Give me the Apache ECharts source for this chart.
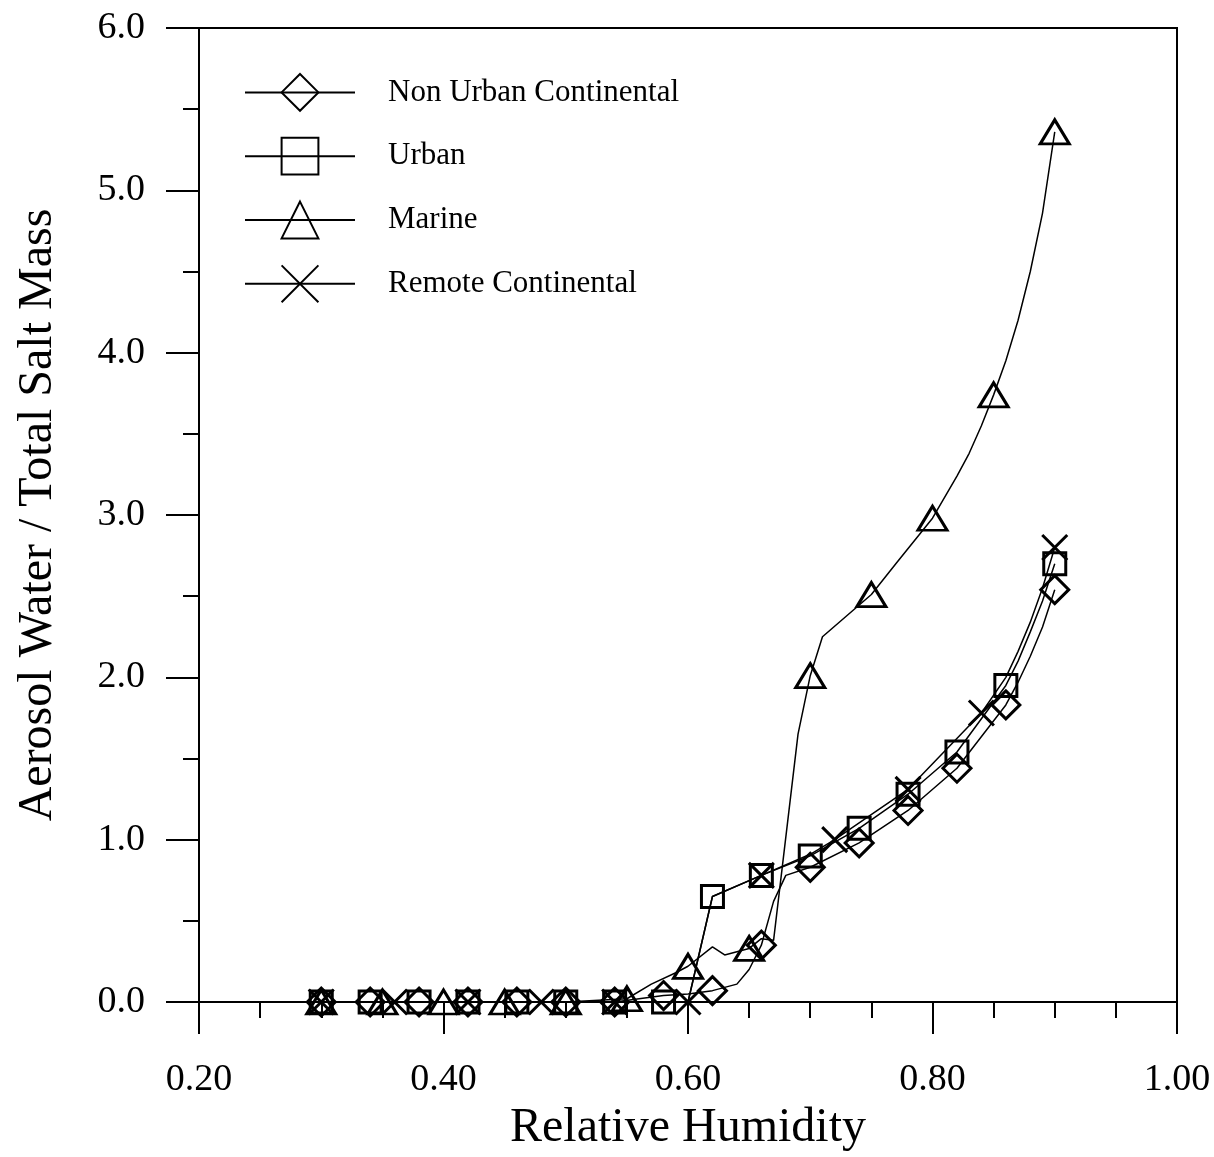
<!DOCTYPE html>
<html>
<head>
<meta charset="utf-8">
<script src="https://cdn.jsdelivr.net/npm/echarts@6/dist/echarts.min.js"></script>
<style>
html,body{margin:0;padding:0;background:#fff;}
#chart{width:1214px;height:1157px;}
</style>
</head>
<body>
<div id="chart"></div>
<script>
// ---- Data ----
const seriesNames = ['Non Urban Continental', 'Urban', 'Marine', 'Remote Continental'];

// Marker points
const nucRH   = [0.30,0.34,0.38,0.42,0.46,0.50,0.54,0.58,0.62,0.66,0.70,0.74,0.78,0.82,0.86,0.90];
const nucVal  = [0,0,0,0,0,0,0,0.04,0.07,0.35,0.83,0.98,1.18,1.44,1.83,2.54];
const urbRH   = [0.30,0.34,0.38,0.42,0.46,0.50,0.54,0.58,0.62,0.66,0.70,0.74,0.78,0.82,0.86,0.90];
const urbVal  = [0,0,0,0,0,0,0,0,0.65,0.78,0.90,1.07,1.28,1.54,1.95,2.70];
const marRH   = [0.30,0.35,0.40,0.45,0.50,0.55,0.60,0.65,0.70,0.75,0.80,0.85,0.90];
const marVal  = [0,0,0,0,0,0.02,0.22,0.33,2.01,2.51,2.98,3.74,5.36];
const remRH   = [0.30,0.36,0.42,0.48,0.54,0.60,0.66,0.72,0.78,0.84,0.90];
const remVal  = [0,0,0,0,0,0,0.78,1.00,1.31,1.78,2.80];

// Intermediate curve points (line only, no marker)
const nucCurveRH  = [0.60,0.64,0.65,0.67,0.68,0.87,0.88,0.89];
const nucCurveVal = [0.05,0.11,0.20,0.62,0.78,1.97,2.13,2.31];
const urbCurveRH  = [0.60,0.87,0.88,0.89];
const urbCurveVal = [0.00,2.10,2.28,2.47];
const marCurveRH  = [0.57,0.59,0.62,0.63,0.66,0.67,0.69,0.71,0.77,0.82,0.83,0.84,0.86,0.87,0.88,0.89];
const marCurveVal = [0.11,0.18,0.34,0.29,0.39,0.38,1.65,2.25,2.70,3.24,3.38,3.55,3.95,4.20,4.50,4.86];
const remCurveRH  = [0.62,0.70,0.86,0.87,0.88,0.89];
const remCurveVal = [0.65,0.91,2.00,2.16,2.34,2.55];

// Axis ticks
const xTicks = [0.20,0.40,0.60,0.80,1.00];
const yTicks = [0.0,1.0,2.0,3.0,4.0,5.0,6.0];

// ---- Build ----
function build(rh, val, crh, cval) {
  const pts = [];
  rh.forEach((x, i) => pts.push({ value: [x, val[i]] }));
  crh.forEach((x, i) => pts.push({ value: [x, cval[i]], symbol: 'none' }));
  pts.sort((a, b) => a.value[0] - b.value[0]);
  return pts;
}
const FONT = 'Liberation Serif';
const crossPath = 'path://M0,0L10,10M10,0L0,10';

function mkSeries(name, data, symbol, size) {
  return {
    name: name,
    type: 'line',
    data: data,
    symbol: symbol,
    symbolSize: size,
    showSymbol: true,
    showAllSymbol: true,
    color: '#000',
    lineStyle: { color: '#000', width: 1.5 },
    itemStyle: { color: 'rgba(0,0,0,0)', borderColor: '#000', borderWidth: 3 },
    emphasis: { disabled: true },
    animation: false,
    z: 2
  };
}

const chart = echarts.init(document.getElementById('chart'), null, { renderer: 'canvas' });
chart.setOption({
  backgroundColor: '#fff',
  animation: false,
  grid: {
    left: 199, right: 37, top: 28, bottom: 150,
    show: true, borderColor: '#000', borderWidth: 2, backgroundColor: 'transparent'
  },
  legend: {
    orient: 'vertical',
    left: 239, top: 68,
    itemWidth: 110, itemHeight: 46, itemGap: 25,
    data: seriesNames,
    textStyle: { fontFamily: FONT, fontSize: 31, color: '#000', padding: [0, 0, 0, 28] },
    selectedMode: false
  },
  xAxis: {
    type: 'value', min: 0.2, max: 1.0, interval: 0.2,
    name: 'Relative Humidity', nameLocation: 'middle', nameGap: 102,
    nameTextStyle: { fontFamily: FONT, fontSize: 48, color: '#000' },
    axisLine: { onZero: true, lineStyle: { color: '#000', width: 2 } },
    axisTick: { show: true, inside: false, length: 32, lineStyle: { color: '#000', width: 2 } },
    minorTick: { show: true, splitNumber: 4, length: 16, lineStyle: { color: '#000', width: 2 } },
    splitLine: { show: false },
    axisLabel: {
      margin: 59, fontFamily: FONT, fontSize: 38, color: '#000',
      formatter: v => { const t = xTicks.find(k => Math.abs(k - v) < 1e-6); return t !== undefined ? t.toFixed(2) : ''; }
    }
  },
  yAxis: {
    type: 'value', min: 0, max: 6, interval: 1,
    name: 'Aerosol Water / Total Salt Mass', nameLocation: 'middle', nameGap: 137,
    nameTextStyle: { fontFamily: FONT, fontSize: 48, color: '#000' },
    axisLine: { show: true, onZero: false, lineStyle: { color: '#000', width: 2 } },
    axisTick: { show: true, inside: false, length: 33, lineStyle: { color: '#000', width: 2 } },
    minorTick: { show: true, splitNumber: 2, length: 16, lineStyle: { color: '#000', width: 2 } },
    splitLine: { show: false },
    axisLabel: {
      margin: 54, fontFamily: FONT, fontSize: 38, color: '#000',
      formatter: v => { const t = yTicks.find(k => Math.abs(k - v) < 1e-6); return t !== undefined ? t.toFixed(1) : ''; }
    }
  },
  series: [
    mkSeries(seriesNames[0], build(nucRH, nucVal, nucCurveRH, nucCurveVal), 'diamond', 28),
    mkSeries(seriesNames[1], build(urbRH, urbVal, urbCurveRH, urbCurveVal), 'rect', 22),
    mkSeries(seriesNames[2], build(marRH, marVal, marCurveRH, marCurveVal), 'triangle', [29, 24]),
    mkSeries(seriesNames[3], build(remRH, remVal, remCurveRH, remCurveVal), crossPath, 25)
  ]
});
</script>
</body>
</html>
